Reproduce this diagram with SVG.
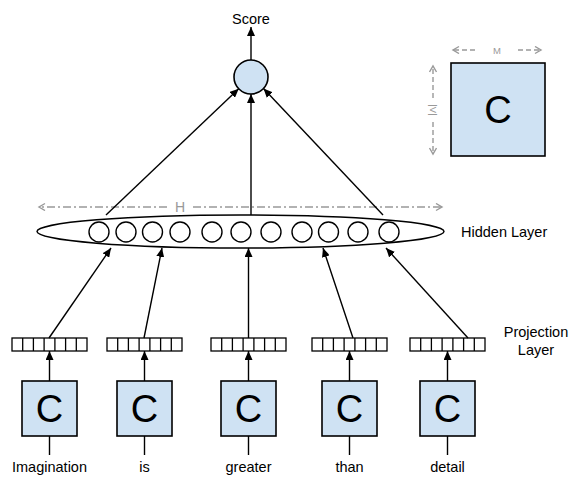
<svg xmlns="http://www.w3.org/2000/svg" width="571" height="481" viewBox="0 0 571 481">
<style>
text{font-family:"Liberation Sans",Arial,sans-serif;fill:#000}
.lbl{font-size:14.5px}
.big{font-size:38px;text-anchor:middle}
.box{fill:#cfe2f3;stroke:#000;stroke-width:1.6}
.proj rect{fill:#fff;stroke:#000;stroke-width:1.3}
.proj line{stroke:#000;stroke-width:1.3}
.con{stroke:#000;stroke-width:1.4;fill:none;marker-end:url(#ah)}
.plain{stroke:#000;stroke-width:1.4;fill:none}
.dim{stroke:#999;stroke-width:1.4;fill:none}
.hc{fill:#fff;stroke:#000;stroke-width:1.4}
.grey{fill:#999}
</style>
<defs>
<marker id="ah" markerUnits="userSpaceOnUse" markerWidth="9" markerHeight="8" refX="9" refY="4" orient="auto">
<path d="M0,0 L9,4 L0,8 z" fill="#000"/>
</marker>
<marker id="dh" markerUnits="userSpaceOnUse" markerWidth="10" markerHeight="10" refX="7" refY="4" orient="auto">
<path d="M1,0.5 L7,4 L1,7.5" fill="none" stroke="#999" stroke-width="1.4"/>
</marker>
</defs>

<g id="score-label"><text class="lbl" x="251" y="24" text-anchor="middle">Score</text></g>
<g id="score-node"><circle cx="251" cy="77" r="17" class="box"/></g>

<g id="matrix-C">
<rect x="451" y="63" width="94" height="93" class="box"/>
<text class="big" x="498" y="123">C</text>
<line x1="475" y1="50" x2="453" y2="50" class="dim" stroke-dasharray="5,3" marker-end="url(#dh)"/>
<line x1="518" y1="50" x2="541" y2="50" class="dim" stroke-dasharray="5,3" marker-end="url(#dh)"/>
<text x="497" y="53.5" font-size="9.5" text-anchor="middle" class="grey" style="fill:#999">M</text>
<line x1="433" y1="98" x2="433" y2="66" class="dim" stroke-dasharray="5,3" marker-end="url(#dh)"/>
<line x1="433" y1="122" x2="433" y2="154" class="dim" stroke-dasharray="5,3" marker-end="url(#dh)"/>
<text x="433" y="110" font-size="9.5" text-anchor="middle" transform="rotate(90 433 110)" dy="3.5" style="fill:#999">|V|</text>
</g>

<g id="hidden-layer">
<line x1="167" y1="207" x2="39" y2="207" class="dim" stroke-dasharray="8,3,2,3" marker-end="url(#dh)"/>
<line x1="193" y1="207" x2="442" y2="207" class="dim" stroke-dasharray="8,3,2,3" marker-end="url(#dh)"/>
<text x="180" y="212" font-size="14" text-anchor="middle" style="fill:#999">H</text>
<ellipse cx="240.5" cy="231.5" rx="203.5" ry="16.5" fill="#fff" stroke="#000" stroke-width="1.5"/>
<circle cx="99" cy="232" r="10" class="hc"/>
<circle cx="126" cy="232" r="10" class="hc"/>
<circle cx="152.5" cy="232" r="10" class="hc"/>
<circle cx="180" cy="232" r="10" class="hc"/>
<circle cx="212" cy="232" r="10" class="hc"/>
<circle cx="241" cy="232" r="10" class="hc"/>
<circle cx="271" cy="232" r="10" class="hc"/>
<circle cx="302" cy="232" r="10" class="hc"/>
<circle cx="328.5" cy="232" r="10" class="hc"/>
<circle cx="358" cy="232" r="10" class="hc"/>
<circle cx="389" cy="232" r="10" class="hc"/>
<text class="lbl" x="461" y="237">Hidden Layer</text>
</g>

<g id="proj-1" class="proj"><rect x="12" y="338" width="75" height="13"/><line x1="22.7" y1="338" x2="22.7" y2="351"/><line x1="33.4" y1="338" x2="33.4" y2="351"/><line x1="44.1" y1="338" x2="44.1" y2="351"/><line x1="54.9" y1="338" x2="54.9" y2="351"/><line x1="65.6" y1="338" x2="65.6" y2="351"/><line x1="76.3" y1="338" x2="76.3" y2="351"/></g>
<g id="proj-2" class="proj"><rect x="107" y="338" width="75" height="13"/><line x1="117.7" y1="338" x2="117.7" y2="351"/><line x1="128.4" y1="338" x2="128.4" y2="351"/><line x1="139.1" y1="338" x2="139.1" y2="351"/><line x1="149.9" y1="338" x2="149.9" y2="351"/><line x1="160.6" y1="338" x2="160.6" y2="351"/><line x1="171.3" y1="338" x2="171.3" y2="351"/></g>
<g id="proj-3" class="proj"><rect x="211" y="338" width="75" height="13"/><line x1="221.7" y1="338" x2="221.7" y2="351"/><line x1="232.4" y1="338" x2="232.4" y2="351"/><line x1="243.1" y1="338" x2="243.1" y2="351"/><line x1="253.9" y1="338" x2="253.9" y2="351"/><line x1="264.6" y1="338" x2="264.6" y2="351"/><line x1="275.3" y1="338" x2="275.3" y2="351"/></g>
<g id="proj-4" class="proj"><rect x="312" y="338" width="75" height="13"/><line x1="322.7" y1="338" x2="322.7" y2="351"/><line x1="333.4" y1="338" x2="333.4" y2="351"/><line x1="344.1" y1="338" x2="344.1" y2="351"/><line x1="354.9" y1="338" x2="354.9" y2="351"/><line x1="365.6" y1="338" x2="365.6" y2="351"/><line x1="376.3" y1="338" x2="376.3" y2="351"/></g>
<g id="proj-5" class="proj"><rect x="410" y="338" width="75" height="13"/><line x1="420.7" y1="338" x2="420.7" y2="351"/><line x1="431.4" y1="338" x2="431.4" y2="351"/><line x1="442.1" y1="338" x2="442.1" y2="351"/><line x1="452.9" y1="338" x2="452.9" y2="351"/><line x1="463.6" y1="338" x2="463.6" y2="351"/><line x1="474.3" y1="338" x2="474.3" y2="351"/></g>
<g id="proj-label"><text class="lbl" x="536" y="337" text-anchor="middle">Projection</text><text class="lbl" x="536" y="355" text-anchor="middle">Layer</text></g>

<g id="C-1"><rect x="22" y="381" width="55" height="55" class="box"/><text class="big" x="49.5" y="422">C</text></g>
<g id="C-2"><rect x="117" y="381" width="55" height="55" class="box"/><text class="big" x="144.5" y="422">C</text></g>
<g id="C-3"><rect x="221" y="381" width="55" height="55" class="box"/><text class="big" x="248.5" y="422">C</text></g>
<g id="C-4"><rect x="322" y="381" width="55" height="55" class="box"/><text class="big" x="349.5" y="422">C</text></g>
<g id="C-5"><rect x="420" y="381" width="55" height="55" class="box"/><text class="big" x="447.5" y="422">C</text></g>

<g id="words" class="lbl">
<text class="lbl" x="49.5" y="472" text-anchor="middle">Imagination</text>
<text class="lbl" x="144.5" y="472" text-anchor="middle">is</text>
<text class="lbl" x="248.5" y="472" text-anchor="middle">greater</text>
<text class="lbl" x="349.5" y="472" text-anchor="middle">than</text>
<text class="lbl" x="447.5" y="472" text-anchor="middle">detail</text>
</g>

<g id="connectors">
<line x1="251" y1="60" x2="251" y2="27" class="con"/>
<line x1="106" y1="215" x2="238.7" y2="88.7" class="con"/>
<line x1="251" y1="215" x2="251" y2="94" class="con"/>
<line x1="383" y1="215" x2="263.5" y2="88.5" class="con"/>
<line x1="49" y1="338" x2="111" y2="248" class="con"/>
<line x1="144" y1="338" x2="162" y2="248" class="con"/>
<line x1="248.5" y1="338" x2="248.5" y2="248" class="con"/>
<line x1="353" y1="338" x2="323" y2="248" class="con"/>
<line x1="468" y1="338" x2="386" y2="248" class="con"/>
<line x1="49.5" y1="381" x2="49.5" y2="351" class="con"/>
<line x1="144.5" y1="381" x2="144.5" y2="351" class="con"/>
<line x1="248.5" y1="381" x2="248.5" y2="351" class="con"/>
<line x1="349.5" y1="381" x2="349.5" y2="351" class="con"/>
<line x1="447.5" y1="381" x2="447.5" y2="351" class="con"/>
<line x1="49.5" y1="436" x2="49.5" y2="455" class="plain"/>
<line x1="144.5" y1="436" x2="144.5" y2="455" class="plain"/>
<line x1="248.5" y1="436" x2="248.5" y2="455" class="plain"/>
<line x1="349.5" y1="436" x2="349.5" y2="455" class="plain"/>
<line x1="447.5" y1="436" x2="447.5" y2="455" class="plain"/>
</g>
</svg>
